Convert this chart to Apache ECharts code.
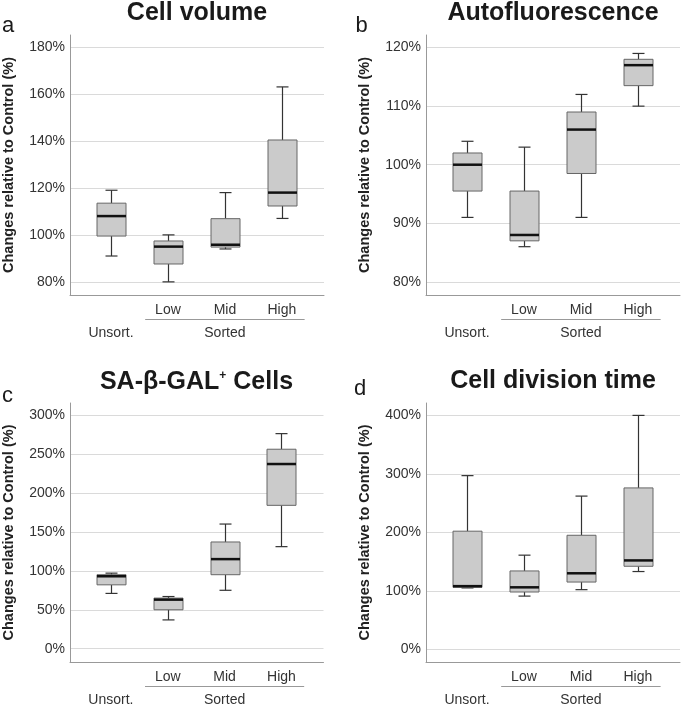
<!DOCTYPE html>
<html><head><meta charset="utf-8">
<script src="https://cdn.jsdelivr.net/npm/echarts@6/dist/echarts.min.js"></script>
<style>html,body{margin:0;padding:0;background:#fff}#c{width:685px;height:707px}</style>
</head><body><div id="c"></div>
<script>
// ---- data ----
const positions = [0, 1, 2, 3];
const boxLabels = ['', 'Low', 'Mid', 'High'];
const groupLabels = ['Unsort.', 'Sorted'];
const groupPositions = [0, 2];
const sortedSpan = [0.6, 3.4];

// each box: [min, Q1, median, Q3, max]  (% of control)
const cellVolume = [[91, 99.5, 108, 113.5, 119], [80, 87.6, 95, 97.4, 100], [94, 94.8, 95.8, 106.9, 118], [107, 112.3, 118, 140.4, 163]];
const autofluorescence = [[91, 95.5, 100, 102, 104], [86, 87, 88, 95.5, 103], [91, 98.5, 106, 109, 112], [110, 113.5, 117, 118, 119]];
const saBetaGal = [[71, 82, 93, 95, 97], [37, 50, 63, 65, 67], [75, 95, 115, 137, 160], [131, 184, 237, 256, 276]];
const divisionTime = [[105, 106, 108, 202, 297], [91, 98, 106, 134, 161], [102, 115, 130, 195, 262], [133, 142, 152, 276, 400]];

const yTicksA = [80, 100, 120, 140, 160, 180];
const yTicksB = [80, 90, 100, 110, 120];
const yTicksC = [0, 50, 100, 150, 200, 250, 300];
const yTicksD = [0, 100, 200, 300, 400];

const titles = ['Cell volume', 'Autofluorescence', '{m|SA-β-GAL}{s|+}{m| Cells}', 'Cell division time'];
const letters = ['a', 'b', 'c', 'd'];
const yName = 'Changes relative to Control (%)';

// ---- layout ----
const FONT = '"Liberation Sans", Arial, Helvetica, sans-serif';
const panels = [
  { data: cellVolume, ticks: yTicksA, min: 74.4, max: 185.1, left: 70, top: 35, titleY: 13.3, letterX: 2, letterY: 26 },
  { data: autofluorescence, ticks: yTicksB, min: 77.75, max: 122.15, left: 426, top: 35, titleY: 13.3, letterX: 355.5, letterY: 26 },
  { data: saBetaGal, ticks: yTicksC, min: -17, max: 315.3, left: 69.5, top: 403, titleY: 382.5, letterX: 2, letterY: 395.5 },
  { data: divisionTime, ticks: yTicksD, min: -21.7, max: 421.2, left: 426, top: 403, titleY: 381.5, letterX: 354, letterY: 389 }
];
const GW = 254, GH = 260, XMIN = -0.72, XMAX = 3.74;

function renderBox(params, api) {
  const x = api.value(0);
  const c = (v) => api.coord([x, v]);
  const cx = Math.round(c(api.value(3))[0]) + 0.5;
  const yMin = c(api.value(1))[1], yQ1 = c(api.value(2))[1], yMed = c(api.value(3))[1],
        yQ3 = c(api.value(4))[1], yMax = c(api.value(5))[1];
  const hw = 14.5, cap = 6;
  const wStyle = { stroke: '#333', lineWidth: 1.2 };
  return {
    type: 'group',
    children: [
      { type: 'line', shape: { x1: cx, y1: yMax, x2: cx, y2: yQ3 }, style: wStyle },
      { type: 'line', shape: { x1: cx - cap, y1: yMax, x2: cx + cap, y2: yMax }, style: wStyle },
      { type: 'line', shape: { x1: cx, y1: yQ1, x2: cx, y2: yMin }, style: wStyle },
      { type: 'line', shape: { x1: cx - cap, y1: yMin, x2: cx + cap, y2: yMin }, style: wStyle },
      { type: 'rect', shape: { x: cx - hw, y: yQ3, width: 2 * hw, height: yQ1 - yQ3 },
        style: { fill: '#cbcbcb', stroke: '#666', lineWidth: 1 } },
      { type: 'line', shape: { x1: cx - hw, y1: yMed, x2: cx + hw, y2: yMed }, style: { stroke: '#111', lineWidth: 2.5 } }
    ]
  };
}

function renderBracket(params, api) {
  const cs = params.coordSys;
  const y = Math.round(cs.y + cs.height) + 24.5;
  const x1 = api.coord([api.value(0), api.value(2)])[0];
  const x2 = api.coord([api.value(1), api.value(2)])[0];
  return { type: 'line', shape: { x1: x1, y1: y, x2: x2, y2: y }, style: { stroke: '#999', lineWidth: 1 } };
}

const grid = [], xAxis = [], yAxis = [], series = [], graphic = [];
panels.forEach((p, i) => {
  grid.push({ left: p.left, top: p.top, width: GW, height: GH });
  const lbl = { fontSize: 14, color: '#333', fontFamily: FONT };
  xAxis.push({
    gridIndex: i, type: 'value', min: XMIN, max: XMAX, position: 'bottom',
    axisLine: { show: true, onZero: false, lineStyle: { color: '#999', width: 1 } },
    axisTick: { show: false }, splitLine: { show: false },
    axisLabel: Object.assign({ customValues: positions.slice(1), margin: 8,
      formatter: (v) => boxLabels[positions.indexOf(Math.round(v))] }, lbl)
  });
  xAxis.push({
    gridIndex: i, type: 'value', min: XMIN, max: XMAX, position: 'bottom',
    axisLine: { show: false, onZero: false }, axisTick: { show: false }, splitLine: { show: false },
    axisLabel: Object.assign({ customValues: groupPositions, margin: 31,
      formatter: (v) => groupLabels[groupPositions.indexOf(Math.round(v))] }, lbl)
  });
  yAxis.push({
    gridIndex: i, type: 'value', min: p.min, max: p.max,
    axisLine: { show: true, onZero: false, lineStyle: { color: '#999', width: 1 } },
    axisTick: { show: false, customValues: p.ticks },
    axisLabel: Object.assign({ customValues: p.ticks, margin: 5, formatter: '{value}%' }, lbl),
    splitLine: { show: true, lineStyle: { color: '#dadada', width: 1 } },
    name: yName, nameLocation: 'middle', nameRotate: 90, nameGap: 54,
    nameTextStyle: { fontWeight: 'bold', fontSize: 14.5, color: '#222', fontFamily: FONT }
  });
  series.push({
    type: 'custom', xAxisIndex: 2 * i, yAxisIndex: i, silent: true,
    encode: { x: 0, y: [1, 2, 3, 4, 5] },
    data: p.data.map((d, j) => [positions[j]].concat(d)),
    renderItem: renderBox
  });
  series.push({
    type: 'custom', xAxisIndex: 2 * i, yAxisIndex: i, silent: true,
    encode: { x: [0, 1], y: 2 },
    data: [[sortedSpan[0], sortedSpan[1], p.ticks[0]]],
    renderItem: renderBracket
  });
  graphic.push({
    type: 'text', x: p.left + GW / 2, y: p.titleY, silent: true,
    style: {
      text: titles[i], align: 'center', verticalAlign: 'middle',
      font: 'bold 25px ' + FONT, fill: '#1a1a1a',
      rich: {
        m: { font: 'bold 25px ' + FONT, fill: '#1a1a1a' },
        s: { font: 'bold 12px ' + FONT, fill: '#1a1a1a', verticalAlign: 'top' }
      }
    }
  });
  graphic.push({
    type: 'text', x: p.letterX, y: p.letterY, silent: true,
    style: { text: letters[i], align: 'left', verticalAlign: 'middle', font: '22px ' + FONT, fill: '#1a1a1a' }
  });
});

const chart = echarts.init(document.getElementById('c'), null, { renderer: 'canvas' });
chart.setOption({
  animation: false,
  backgroundColor: '#fff',
  textStyle: { fontFamily: FONT },
  grid, xAxis, yAxis, series, graphic
});
</script></body></html>
